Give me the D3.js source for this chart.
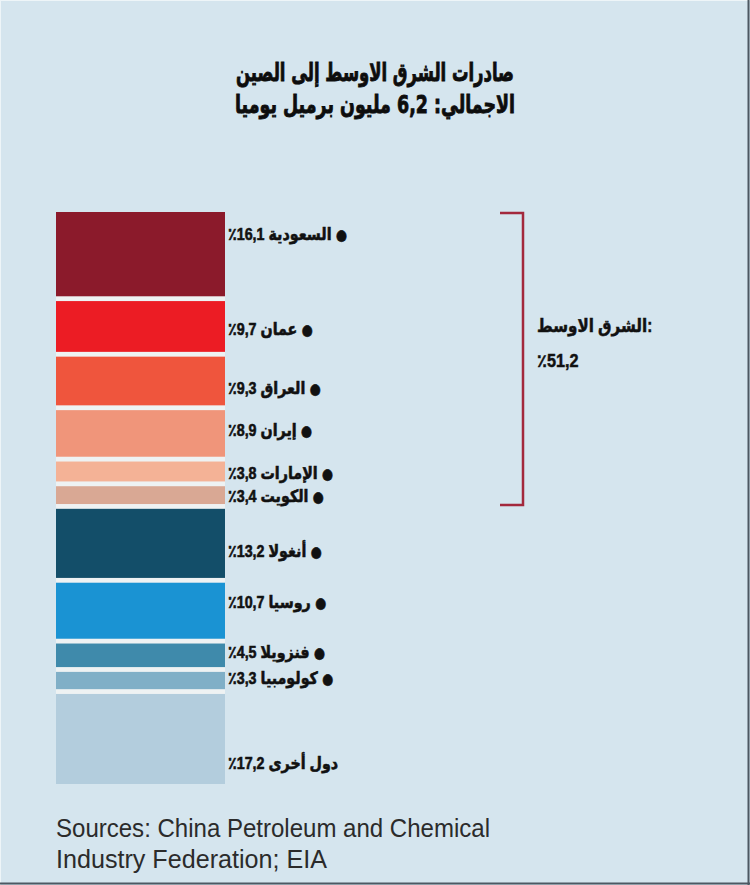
<!DOCTYPE html>
<html>
<head>
<meta charset="utf-8">
<script src="https://cdn.jsdelivr.net/npm/d3@7"></script>
<style>
  html, body { margin: 0; padding: 0; background: #d5e5ee; }
  svg { display: block; }
</style>
</head>
<body>
<svg id="chart" width="750" height="885"></svg>
<script>
// ---- data ----
const titleLines = ["صادرات الشرق الاوسط إلى الصين", "الاجمالي: 6,2 مليون برميل يوميا"];
const categories = ["السعودية", "عمان", "العراق", "إيران", "الإمارات", "الكويت", "أنغولا", "روسيا", "فنزويلا", "كولومبيا", "دول أخرى"];
const shares = [16.1, 9.7, 9.3, 8.9, 3.8, 3.4, 13.2, 10.7, 4.5, 3.3, 17.2];
const hasBullet = [true, true, true, true, true, true, true, true, true, true, false];
const colors = ["#8b1a2b", "#ec1c24", "#ef553d", "#f0957a", "#f4b296", "#d9a894", "#134e69", "#1a93d3", "#3f8aab", "#80afc7", "#b3cddd"];
const groupLabel = "الشرق الاوسط:";
const groupCount = 6;
const sourceLines = ["Sources: China Petroleum and Chemical", "Industry Federation; EIA"];

// ---- layout ----
const svg = d3.select("#chart");
const W = 750, H = 885;
const barX = 56, barW = 169;
const stackTop = 212, stackBottom = 784, gap = 4.8;
const n = shares.length;
const total = d3.sum(shares);
const y = d3.scaleLinear().domain([0, total]).range([0, (stackBottom - stackTop) - gap * (n - 1)]);
const fmt = v => d3.format(".1f")(v).replace(".", ",");
const arFont = "'DejaVu Sans', sans-serif";

svg.append("rect").attr("width", W).attr("height", H).attr("fill", "#d5e5ee");

// title
const titleW = [278, 280];
svg.selectAll("text.title").data(titleLines).join("text")
  .attr("class", "title")
  .attr("x", 375).attr("y", (d, i) => 81 + i * 32)
  .attr("text-anchor", "middle")
  .attr("font-family", arFont)
  .attr("font-weight", "bold")
  .attr("font-size", 25)
  .attr("fill", "#0d0d0d")
  .attr("stroke", "#0d0d0d").attr("stroke-width", 0.9)
  .attr("textLength", (d, i) => titleW[i])
  .attr("lengthAdjust", "spacingAndGlyphs")
  .style("direction", "rtl")
  .text(d => d);

// stacked segments
let cum = 0;
const segs = shares.map((v, i) => {
  const y0 = stackTop + y(cum) + i * gap;
  cum += v;
  const y1 = stackTop + y(cum) + i * gap;
  return { v, i, y0, y1 };
});

// white separators behind bars
svg.append("rect")
  .attr("x", barX).attr("width", barW)
  .attr("y", segs[0].y0).attr("height", segs[n - 1].y1 - segs[0].y0)
  .attr("fill", "#eef2f3");

svg.selectAll("rect.seg").data(segs).join("rect")
  .attr("class", "seg")
  .attr("x", barX).attr("width", barW)
  .attr("y", d => d.y0)
  .attr("height", d => d.y1 - d.y0)
  .attr("fill", d => colors[d.i]);

// label vertical nudges (visual placement relative to segment centre)
const nudge = [-20, 3, 7, -3, 2, 1, 8, -9, -3, -3, 24];

const labels = svg.selectAll("text.lab").data(segs).join("text")
  .attr("class", "lab")
  .attr("transform", d => `translate(228,${(d.y0 + d.y1) / 2 + nudge[d.i] + 6}) scale(0.84,1)`)
  .attr("x", 0).attr("y", 0)
  .attr("text-anchor", "end")
  .attr("font-family", "'Liberation Sans', 'DejaVu Sans', sans-serif")
  .attr("font-weight", "bold")
  .attr("font-size", 17)
  .attr("fill", "#111")
  .attr("stroke", "#111").attr("stroke-width", 0.6)
  .style("direction", "rtl");
labels.each(function(d) {
  const t = d3.select(this);
  if (hasBullet[d.i]) t.append("tspan").attr("font-size", 15).attr("font-family", arFont).text("● ");
  t.append("tspan").text(categories[d.i] + " " + fmt(d.v) + "٪");
});

// bracket for Middle East
const bTop = segs[0].y0 + 1, bBot = segs[groupCount - 1].y1 + 1;
const bx = 523, bx0 = 500;
svg.append("path")
  .attr("d", d3.line()([[bx0, bTop], [bx, bTop], [bx, bBot], [bx0, bBot]]))
  .attr("fill", "none")
  .attr("stroke", "#a3283c")
  .attr("stroke-width", 2.5);

const groupTotal = d3.sum(shares.slice(0, groupCount));
svg.append("text")
  .attr("transform", "translate(537,332) scale(0.84,1)")
  .attr("font-family", "'Liberation Sans', 'DejaVu Sans', sans-serif")
  .attr("font-weight", "bold").attr("font-size", 18)
  .attr("fill", "#111")
  .attr("stroke", "#111").attr("stroke-width", 0.5)
  .style("direction", "ltr")
  .text(groupLabel);
svg.append("text")
  .attr("transform", "translate(537,367) scale(0.9,1)")
  .attr("font-family", "'Liberation Sans', 'DejaVu Sans', sans-serif")
  .attr("font-weight", "bold").attr("font-size", 18)
  .attr("fill", "#111")
  .attr("stroke", "#111").attr("stroke-width", 0.5)
  .style("direction", "ltr")
  .text("٪" + fmt(groupTotal));

// sources
const srcW = [434, 271];
svg.selectAll("text.src").data(sourceLines).join("text")
  .attr("class", "src")
  .attr("x", 56).attr("y", (d, i) => 837 + i * 31)
  .attr("font-family", "'Liberation Sans Narrow', 'Liberation Sans', sans-serif")
  .attr("font-size", 25)
  .attr("fill", "#2b2b2b")
  .attr("textLength", (d, i) => srcW[i])
  .attr("lengthAdjust", "spacingAndGlyphs")
  .text(d => d);

// frame
svg.append("line").attr("x1", 0).attr("y1", 0.5).attr("x2", W).attr("y2", 0.5).attr("stroke", "#eef5f8");
svg.append("line").attr("x1", 0.5).attr("y1", 0).attr("x2", 0.5).attr("y2", H).attr("stroke", "#eef5f8");
svg.append("line").attr("x1", 0).attr("y1", H - 1.5).attr("x2", W).attr("y2", H - 1.5).attr("stroke", "#4d5862").attr("stroke-width", 2);
svg.append("line").attr("x1", W - 1.5).attr("y1", 0).attr("x2", W - 1.5).attr("y2", H).attr("stroke", "#4d5862").attr("stroke-width", 2);
</script>
</body>
</html>
